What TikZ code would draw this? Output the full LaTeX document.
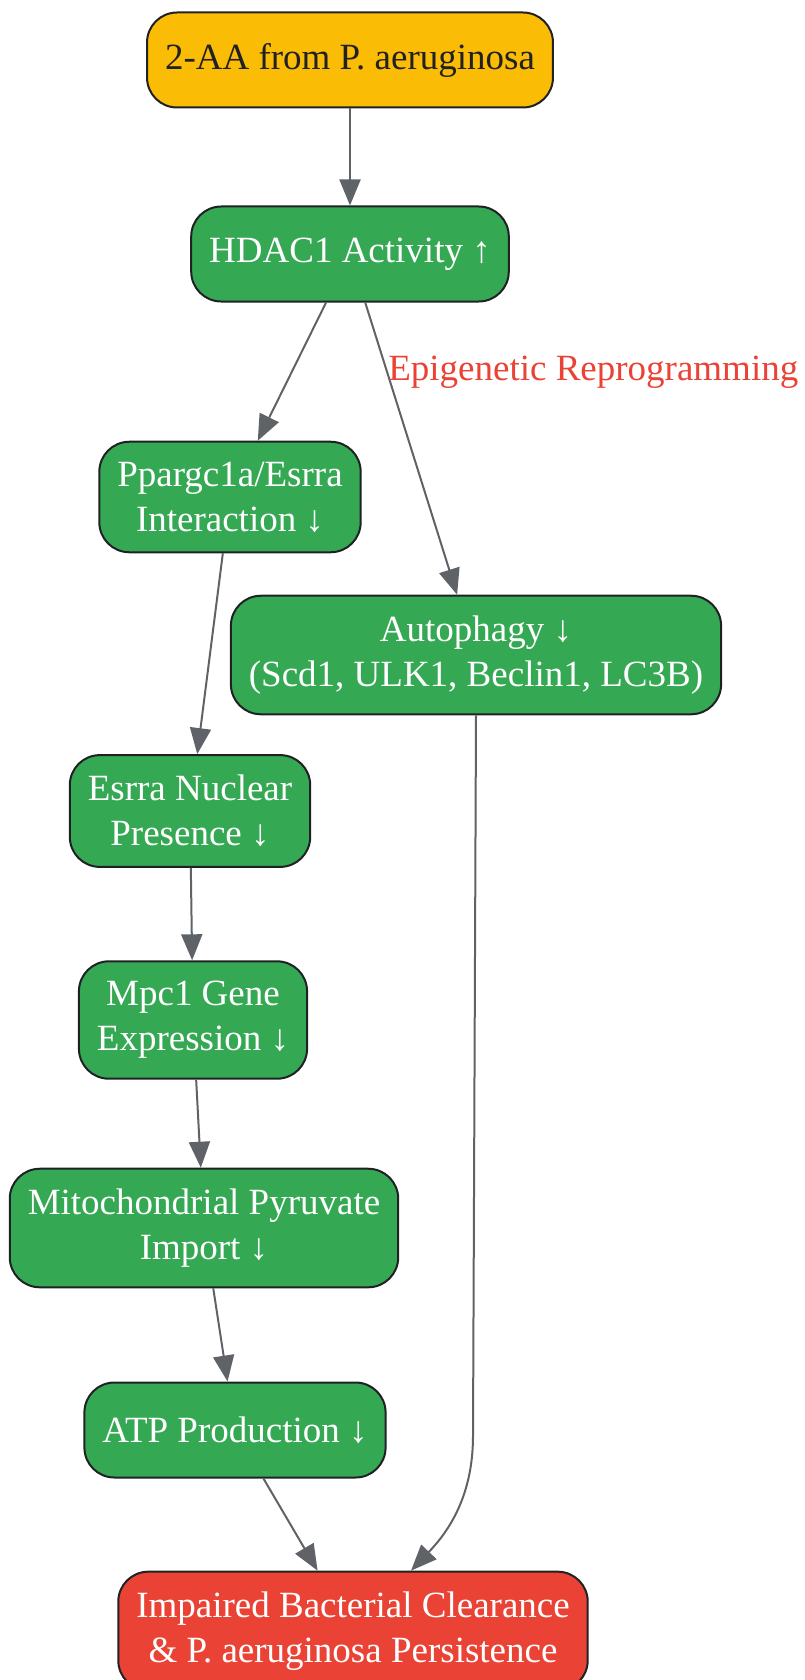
\documentclass[tikz,border=0pt]{standalone}
\usepackage{fontspec}
\setmainfont{Liberation Serif}
\usetikzlibrary{arrows.meta}
\definecolor{gyellow}{HTML}{FBBC05}
\definecolor{ggreen}{HTML}{34A853}
\definecolor{gred}{HTML}{EA4335}
\definecolor{edgegray}{HTML}{5F6368}
\definecolor{boxline}{HTML}{202124}
\tikzset{
  box/.style={draw=boxline, line width=1pt, rounded corners=15pt, align=center,
    inner xsep=9pt, inner ysep=10pt, minimum height=47.5pt,
    font=\fontsize{18.5}{22.5}\selectfont, fill=ggreen, text=white},
  edge/.style={draw=edgegray, line width=1pt, -{Triangle[length=13pt,width=10.5pt]}},
  lbl/.style={text=gred, font=\fontsize{18.5}{22.5}\selectfont, inner sep=0pt},
}
\begin{document}
\begin{tikzpicture}[x=0.5pt, y=-0.5pt]
    \useasboundingbox (0,0) rectangle (804,1680);
    % source
    \node[box, fill=gyellow, text=boxline] (aa) at (350,60) {2-AA from P. aeruginosa};
    \node[box] (hdac) at (350,254) {HDAC1 Activity ↑};
    % left branch
    \node[box] (ppar) at (230,497) {Ppargc1a/Esrra\\Interaction ↓};
    \node[box] (esrra) at (190,811) {Esrra Nuclear\\Presence ↓};
    \node[box] (mpc) at (193,1020) {Mpc1 Gene\\Expression ↓};
    \node[box] (mito) at (204,1228) {Mitochondrial Pyruvate\\Import ↓};
    \node[box] (atp) at (235,1430) {ATP Production ↓};
    % right branch
    \node[box] (auto) at (476,655) {Autophagy ↓\\(Scd1, ULK1, Beclin1, LC3B)};
    % outcome
    \node[box, fill=gred] (imp) at (353,1631) {Impaired Bacterial Clearance\\\& P. aeruginosa Persistence};

    \draw[edge] (aa) -- (hdac);
    \draw[edge] (hdac) -- (ppar);
    \draw[edge] (hdac) -- node[lbl, pos=0.24, anchor=west] {Epigenetic Reprogramming} (auto);
    \draw[edge] (ppar) -- (esrra);
    \draw[edge] (esrra) -- (mpc);
    \draw[edge] (mpc) -- (mito);
    \draw[edge] (mito) -- (atp);
    \draw[edge] (atp) -- (imp);
    % long way down from autophagy
    \coordinate (bend) at (473,1436);
    \draw[edge] (auto.south) -- (bend) .. controls (473,1500) and (445,1535) .. ([xshift=29pt]imp.north);
\end{tikzpicture}
\end{document}
